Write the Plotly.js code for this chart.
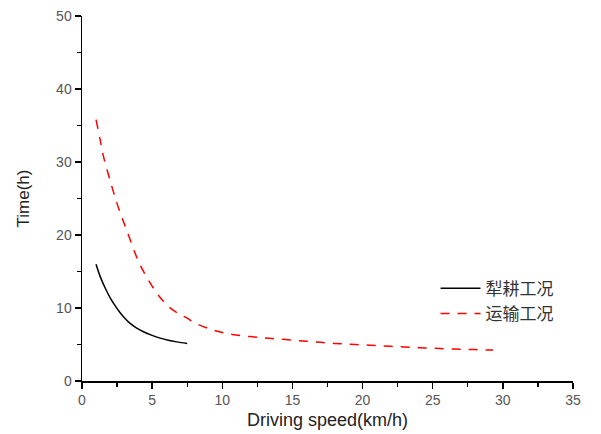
<!DOCTYPE html>
<html>
<head>
<meta charset="utf-8">
<script src="https://cdn.plot.ly/plotly-3.0.1.min.js"></script>
<style>html,body{margin:0;padding:0;background:#fff;}#chart{width:601px;height:434px;}</style>
</head>
<body>
<div id="chart"></div>
<script>
const plowX = [1.0, 1.3, 1.66, 2.01, 2.37, 2.72, 3.05, 3.43, 3.9, 4.38, 5.0, 5.57, 6.15, 6.75, 7.5];
const plowY = [16.0, 14.3, 12.7, 11.4, 10.3, 9.35, 8.6, 7.9, 7.25, 6.75, 6.25, 5.87, 5.58, 5.36, 5.15];
const transX = [1.0, 1.3, 1.5, 2.0, 2.5, 3.0, 3.5, 4.0, 4.5, 5.0, 5.5, 6.0, 6.5, 7.0, 7.5, 8.0, 9.0, 10, 11, 12, 13, 14, 15, 16, 17, 18, 19, 20, 21, 22, 23, 24, 25, 26, 27, 28, 29, 29.3];
const transY = [35.8, 33.0, 31.0, 27.5, 24.3, 21.6, 19.0, 16.5, 14.6, 13.0, 11.6, 10.5, 9.7, 9.1, 8.6, 8.0, 7.2, 6.65, 6.3, 6.08, 5.9, 5.75, 5.6, 5.45, 5.3, 5.15, 5.05, 4.95, 4.85, 4.75, 4.66, 4.57, 4.48, 4.42, 4.36, 4.3, 4.25, 4.23];
const names = ['犁耕工况', '运输工况'];

const font = 'Liberation Sans, Arial, sans-serif';
const data = [
  {x: plowX, y: plowY, name: names[0], mode: 'lines', line: {color: '#000', width: 1.5, shape: 'spline'}},
  {x: transX, y: transY, name: names[1], mode: 'lines', line: {color: '#ff0000', width: 1.5, dash: '9px,8px', shape: 'spline'}}
];
const layout = {
  width: 601, height: 434,
  margin: {l: 82, r: 28, t: 16, b: 53},
  paper_bgcolor: '#fff', plot_bgcolor: '#fff',
  showlegend: true,
  legend: {x: 0.72, y: 0.302, xanchor: 'left', yanchor: 'top', bgcolor: 'rgba(0,0,0,0)',
           font: {family: 'Noto Sans CJK SC, sans-serif', size: 17, color: '#333'}, itemwidth: 40, tracegroupgap: 0},
  xaxis: {range: [0, 35], dtick: 5, tick0: 0, showgrid: false, zeroline: false,
          showline: true, linecolor: '#000', linewidth: 1.5, ticks: 'outside', ticklen: 6, tickwidth: 1.5, tickcolor: '#000',
          minor: {dtick: 2.5, ticks: 'outside', ticklen: 4, tickwidth: 1.2, tickcolor: '#000', showgrid: false},
          tickfont: {family: font, size: 14, color: '#555'},
          title: {text: 'Driving speed(km/h)', font: {family: font, size: 18, color: '#222'}, standoff: 6}},
  yaxis: {range: [0, 50], dtick: 10, tick0: 0, showgrid: false, zeroline: false,
          showline: true, linecolor: '#000', linewidth: 1.5, ticks: 'outside', ticklen: 6, tickwidth: 1.5, tickcolor: '#000',
          minor: {dtick: 5, ticks: 'outside', ticklen: 4, tickwidth: 1.2, tickcolor: '#000', showgrid: false},
          tickfont: {family: font, size: 14, color: '#555'},
          title: {text: 'Time(h)', font: {family: font, size: 17, color: '#222'}, standoff: 22}}
};
Plotly.newPlot('chart', data, layout, {displayModeBar: false, staticPlot: true});
</script>
</body>
</html>
